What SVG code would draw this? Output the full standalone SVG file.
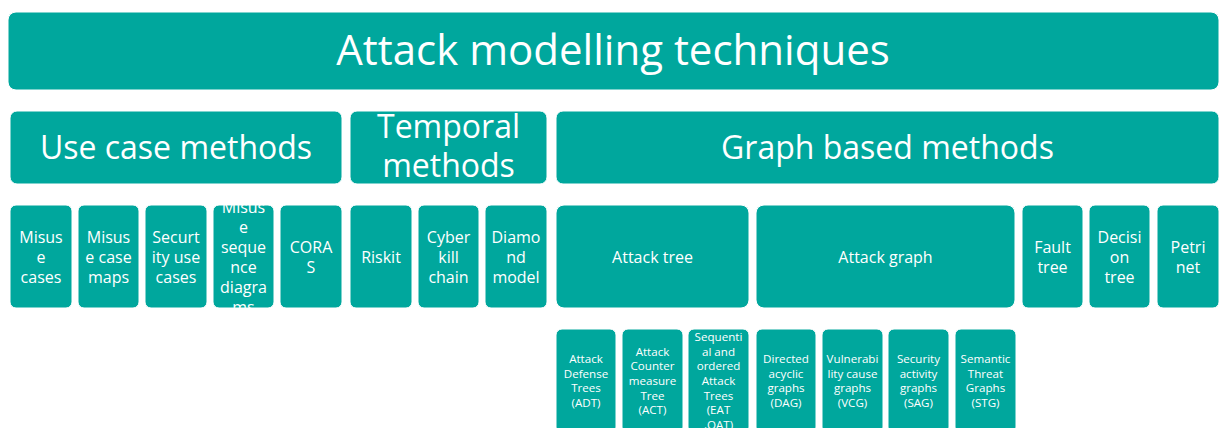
<svg xmlns="http://www.w3.org/2000/svg" width="1222" height="428" viewBox="0 0 1222 428">
  <style>
    .box { fill: #00A79D; stroke: #ffffff; stroke-width: 1; }
    text { font-family: "Open Sans", "Noto Sans", "Liberation Sans", sans-serif; fill: #ffffff; text-anchor: middle; }
    .t0 { font-size: 42px; }
    .t1 { font-size: 32px; }
    .t2 { font-size: 16px; }
    .t3 { font-size: 11.6px; }
  </style>
  <defs>
    <clipPath id="clip-msd"><rect x="213" y="205" width="61" height="103" rx="6"/></clipPath>
    <clipPath id="clip-eat"><rect x="688" y="329" width="61" height="104" rx="6"/></clipPath>
  </defs>
  <rect width="1222" height="428" fill="#ffffff"/>

  <!-- top level -->
  <g id="attack-modelling">
    <rect class="box" x="8" y="12" width="1211" height="78" rx="8"/>
    <text class="t0" x="613" y="65">Attack modelling techniques</text>
  </g>

  <!-- categories -->
  <g id="use-case-methods">
    <rect class="box" x="10" y="111" width="332" height="73" rx="7"/>
    <text class="t1" x="176" y="159">Use case methods</text>
  </g>
  <g id="temporal-methods">
    <rect class="box" x="350" y="111" width="197" height="73" rx="7"/>
    <text class="t1" x="448.5" y="138">Temporal</text>
    <text class="t1" x="448.5" y="177">methods</text>
  </g>
  <g id="graph-based-methods">
    <rect class="box" x="556" y="111" width="663" height="73" rx="7"/>
    <text class="t1" x="887.5" y="159">Graph based methods</text>
  </g>

  <!-- techniques -->
  <g id="misuse-cases">
    <rect class="box" x="10" y="205" width="62" height="103" rx="6"/>
    <text class="t2" x="41" y="243">Misus</text>
    <text class="t2" x="41" y="263">e</text>
    <text class="t2" x="41" y="283">cases</text>
  </g>
  <g id="misuse-case-maps">
    <rect class="box" x="78" y="205" width="61" height="103" rx="6"/>
    <text class="t2" x="108.5" y="243">Misus</text>
    <text class="t2" x="108.5" y="263">e case</text>
    <text class="t2" x="108.5" y="283">maps</text>
  </g>
  <g id="security-use-cases">
    <rect class="box" x="145" y="205" width="62" height="103" rx="6"/>
    <text class="t2" x="176" y="243">Securt</text>
    <text class="t2" x="176" y="263">ity use</text>
    <text class="t2" x="176" y="283">cases</text>
  </g>
  <g id="misuse-sequence-diagrams">
    <rect class="box" x="213" y="205" width="61" height="103" rx="6"/>
    <g clip-path="url(#clip-msd)">
      <text class="t2" x="243.5" y="213">Misus</text>
      <text class="t2" x="243.5" y="233">e</text>
      <text class="t2" x="243.5" y="253">seque</text>
      <text class="t2" x="243.5" y="273">nce</text>
      <text class="t2" x="243.5" y="293">diagra</text>
      <text class="t2" x="243.5" y="313">ms</text>
    </g>
  </g>
  <g id="coras">
    <rect class="box" x="280" y="205" width="62" height="103" rx="6"/>
    <text class="t2" x="311" y="253">CORA</text>
    <text class="t2" x="311" y="273">S</text>
  </g>
  <g id="riskit">
    <rect class="box" x="350" y="205" width="62" height="103" rx="6"/>
    <text class="t2" x="381" y="263">Riskit</text>
  </g>
  <g id="cyber-kill-chain">
    <rect class="box" x="418" y="205" width="61" height="103" rx="6"/>
    <text class="t2" x="448.5" y="243">Cyber</text>
    <text class="t2" x="448.5" y="263">kill</text>
    <text class="t2" x="448.5" y="283">chain</text>
  </g>
  <g id="diamond-model">
    <rect class="box" x="485" y="205" width="62" height="103" rx="6"/>
    <text class="t2" x="516" y="243">Diamo</text>
    <text class="t2" x="516" y="263">nd</text>
    <text class="t2" x="516" y="283">model</text>
  </g>
  <g id="attack-tree">
    <rect class="box" x="556" y="205" width="193" height="103" rx="8"/>
    <text class="t2" x="652.5" y="263">Attack tree</text>
  </g>
  <g id="attack-graph">
    <rect class="box" x="756" y="205" width="259" height="103" rx="8"/>
    <text class="t2" x="885.5" y="263">Attack graph</text>
  </g>
  <g id="fault-tree">
    <rect class="box" x="1022" y="205" width="61" height="103" rx="6"/>
    <text class="t2" x="1052.5" y="253">Fault</text>
    <text class="t2" x="1052.5" y="273">tree</text>
  </g>
  <g id="decision-tree">
    <rect class="box" x="1089" y="205" width="61" height="103" rx="6"/>
    <text class="t2" x="1119.5" y="243">Decisi</text>
    <text class="t2" x="1119.5" y="263">on</text>
    <text class="t2" x="1119.5" y="283">tree</text>
  </g>
  <g id="petri-net">
    <rect class="box" x="1157" y="205" width="62" height="103" rx="6"/>
    <text class="t2" x="1188" y="253">Petri</text>
    <text class="t2" x="1188" y="273">net</text>
  </g>

  <!-- variants -->
  <g id="adt">
    <rect class="box" x="556" y="329" width="60" height="104" rx="6"/>
    <text class="t3" x="586" y="363">Attack</text>
    <text class="t3" x="586" y="378">Defense</text>
    <text class="t3" x="586" y="392">Trees</text>
    <text class="t3" x="586" y="407">(ADT)</text>
  </g>
  <g id="act">
    <rect class="box" x="622" y="329" width="61" height="104" rx="6"/>
    <text class="t3" x="652.5" y="356">Attack</text>
    <text class="t3" x="652.5" y="370">Counter</text>
    <text class="t3" x="652.5" y="385">measure</text>
    <text class="t3" x="652.5" y="400">Tree</text>
    <text class="t3" x="652.5" y="414">(ACT)</text>
  </g>
  <g id="eat-oat">
    <rect class="box" x="688" y="329" width="61" height="104" rx="6"/>
    <g clip-path="url(#clip-eat)">
      <text class="t3" x="718.5" y="341">Sequenti</text>
      <text class="t3" x="718.5" y="356">al and</text>
      <text class="t3" x="718.5" y="370">ordered</text>
      <text class="t3" x="718.5" y="385">Attack</text>
      <text class="t3" x="718.5" y="400">Trees</text>
      <text class="t3" x="718.5" y="414">(EAT</text>
      <text class="t3" x="718.5" y="429">,OAT)</text>
    </g>
  </g>
  <g id="dag">
    <rect class="box" x="756" y="329" width="60" height="104" rx="6"/>
    <text class="t3" x="786" y="363">Directed</text>
    <text class="t3" x="786" y="378">acyclic</text>
    <text class="t3" x="786" y="392">graphs</text>
    <text class="t3" x="786" y="407">(DAG)</text>
  </g>
  <g id="vcg">
    <rect class="box" x="822" y="329" width="61" height="104" rx="6"/>
    <text class="t3" x="852.5" y="363">Vulnerabi</text>
    <text class="t3" x="852.5" y="378">lity cause</text>
    <text class="t3" x="852.5" y="392">graphs</text>
    <text class="t3" x="852.5" y="407">(VCG)</text>
  </g>
  <g id="sag">
    <rect class="box" x="888" y="329" width="61" height="104" rx="6"/>
    <text class="t3" x="918.5" y="363">Security</text>
    <text class="t3" x="918.5" y="378">activity</text>
    <text class="t3" x="918.5" y="392">graphs</text>
    <text class="t3" x="918.5" y="407">(SAG)</text>
  </g>
  <g id="stg">
    <rect class="box" x="955" y="329" width="61" height="104" rx="6"/>
    <text class="t3" x="985.5" y="363">Semantic</text>
    <text class="t3" x="985.5" y="378">Threat</text>
    <text class="t3" x="985.5" y="392">Graphs</text>
    <text class="t3" x="985.5" y="407">(STG)</text>
  </g>
</svg>
